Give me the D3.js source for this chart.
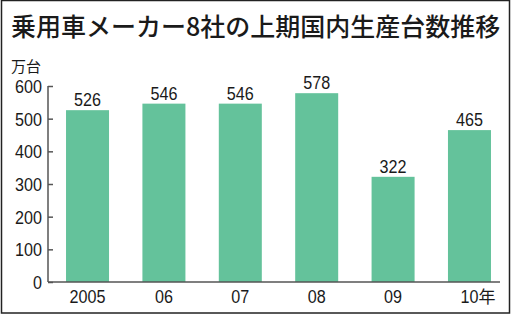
<!DOCTYPE html>
<html>
<head>
<meta charset="utf-8">
<script src="https://cdn.jsdelivr.net/npm/d3@7"></script>
<style>
body { margin: 0; background: #fff; }
svg text { fill: #1a1a1a; }
.num { font-family: "Liberation Sans", Arial, sans-serif; font-size: 19px; }
.jp { font-family: "Noto Sans CJK JP", sans-serif; }
</style>
</head>
<body>
<svg id="chart"></svg>
<script>
var years = ["2005", "06", "07", "08", "09", "10"]
var values = [526, 546, 546, 578, 322, 465]
var yTicks = [0, 100, 200, 300, 400, 500, 600]

var width = 513, height = 316
var squeeze = 0.85   // condensed look of the number font
var svg = d3.select("#chart")
    .attr("width", width)
    .attr("height", height)

// frame
svg.append("rect")
    .attr("x", 1.5).attr("y", 0.5)
    .attr("width", 508).attr("height", 312.5)
    .attr("fill", "none")
    .attr("stroke", "#222")
    .attr("stroke-width", 1.5)

svg.append("text")
    .attr("class", "jp")
    .attr("x", 11).attr("y", 36)
    .style("font-size", "25px")
    .style("font-weight", 500)
    .text("乗用車メーカー8社の上期国内生産台数推移")

svg.append("text")
    .attr("class", "jp")
    .attr("x", 11).attr("y", 72)
    .style("font-size", "15px")
    .text("万台")

var x = d3.scaleBand()
    .domain(years)
    .range([48, 509])
    .paddingInner(0.437)
    .paddingOuter(0.236)

var y = d3.scaleLinear()
    .domain([0, 600])
    .range([282, 86])

function numAt(px, py) {
    return "translate(" + px + "," + py + ") scale(" + squeeze + ",1)"
}

// bars
svg.selectAll("rect.bar")
    .data(values)
    .enter()
    .append("rect")
        .attr("class", "bar")
        .attr("x", (d, i) => x(years[i]))
        .attr("y", d => y(d))
        .attr("width", x.bandwidth())
        .attr("height", d => y(0) - y(d))
        .attr("fill", "#64c29b")

svg.selectAll("text.val")
    .data(values)
    .enter()
    .append("text")
        .attr("class", "num val")
        .attr("transform", (d, i) => numAt(x(years[i]) + x.bandwidth() / 2, y(d) - 4))
        .attr("text-anchor", "middle")
        .text(d => d)

// y axis
var yAxis = d3.axisRight(y)
    .tickValues(yTicks)
    .tickSize(5)
    .tickFormat("")
var ga = svg.append("g")
    .attr("transform", "translate(48,0)")
    .call(yAxis)
ga.select(".domain").remove()
ga.selectAll("line").attr("stroke", "#555").attr("stroke-width", 1.5)

svg.append("line")
    .attr("x1", 48).attr("x2", 48)
    .attr("y1", y(600)).attr("y2", y(0))
    .attr("stroke", "#555").attr("stroke-width", 1.5)

svg.append("line")
    .attr("x1", 48).attr("x2", 500)
    .attr("y1", y(0)).attr("y2", y(0))
    .attr("stroke", "#555").attr("stroke-width", 1.5)

svg.selectAll("text.ytick")
    .data(yTicks)
    .enter()
    .append("text")
        .attr("class", "num ytick")
        .attr("transform", d => numAt(42, y(d) + 7))
        .attr("text-anchor", "end")
        .text(d => d)

// x labels
svg.selectAll("text.xl")
    .data(years)
    .enter()
    .append("text")
        .attr("class", "num xl")
        .attr("transform", d => numAt(x(d) + x.bandwidth() / 2, 303))
        .attr("text-anchor", "middle")
        .text(d => d)

// 年 suffix after last label
var last = years[years.length - 1]
svg.append("text")
    .attr("class", "jp")
    .attr("x", x(last) + x.bandwidth() / 2 + 9)
    .attr("y", 303)
    .style("font-size", "17px")
    .text("年")
</script>
</body>
</html>
